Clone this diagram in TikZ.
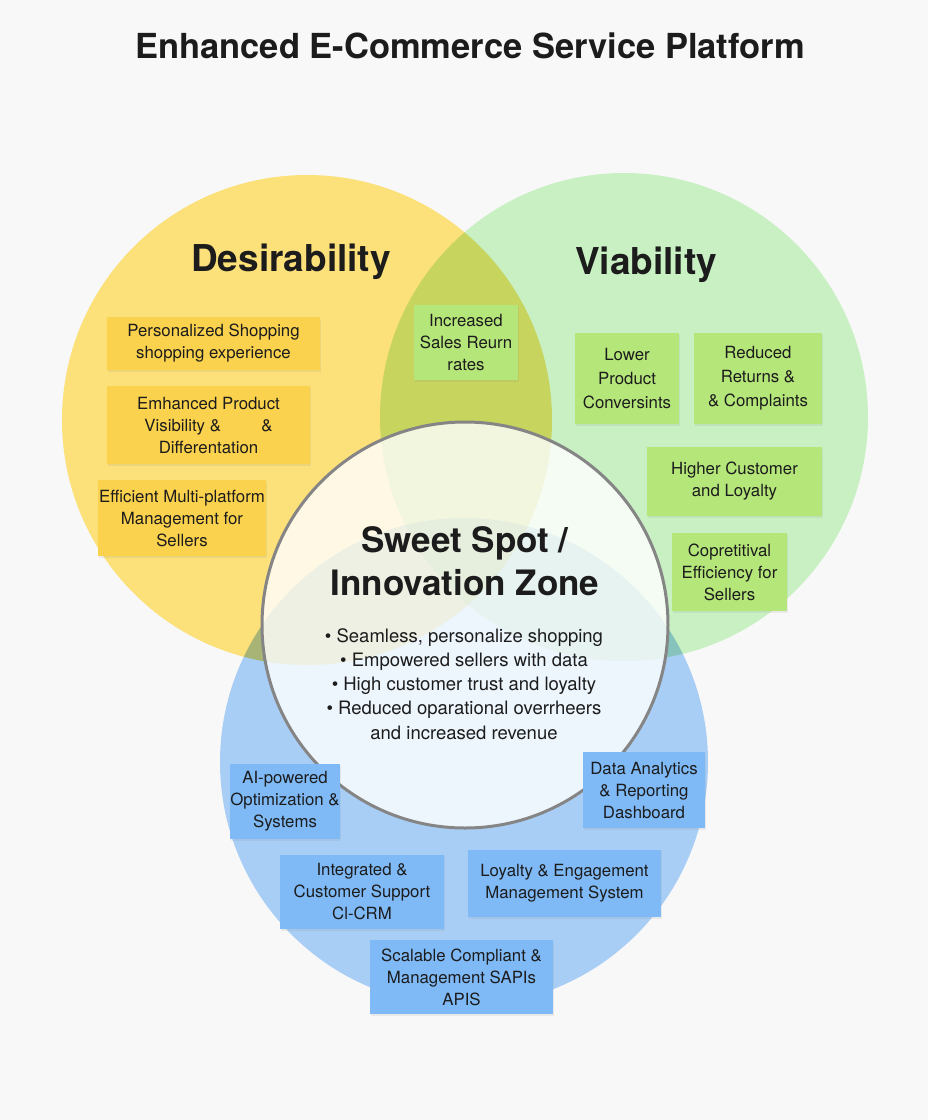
\documentclass[tikz,border=0pt]{standalone}
\usepackage{fontspec}
\setmainfont{TeX Gyre Heros}
\usetikzlibrary{shadows}
\definecolor{bgc}{HTML}{F8F8F8}
\definecolor{ycirc}{HTML}{FCE07A}
\definecolor{gcirc}{HTML}{BDEFB6}
\definecolor{bcirc}{HTML}{A9CEF5}
\definecolor{ybox}{HTML}{FBD24E}
\definecolor{gbox}{HTML}{B5E67A}
\definecolor{bbox}{HTML}{7FBAF7}
\definecolor{txt}{HTML}{1C1C1C}
\definecolor{ring}{HTML}{858585}
\tikzset{
  card/.style={rectangle, inner sep=0pt, align=center, text=txt,
    font=\fontsize{16.8}{22}\selectfont,
    drop shadow={shadow xshift=1pt, shadow yshift=-2pt, opacity=0.12}},
  widecard/.style={font=\fontsize{16.8}{24}\selectfont},
  ycard/.style={card, fill=ybox},
  gcard/.style={card, fill=gbox},
  bcard/.style={card, fill=bbox},
  heading/.style={text=txt, font=\fontsize{37}{42}\selectfont\bfseries},
}
\begin{document}
\begin{tikzpicture}[x=1pt,y=-1pt]
\fill[bgc] (0,0) rectangle (928,1120);
\useasboundingbox (0,0) rectangle (928,1120);
\node[text=txt, font=\fontsize{34.5}{40}\selectfont\bfseries] (title) at (470,46) {Enhanced E-Commerce Service Platform};
\begin{scope}[blend group=multiply]
  \fill[ycirc] (307,420) circle (245);
  \fill[gcirc, fill opacity=0.8] (624,417) circle (244);
  \fill[bcirc] (464,762) circle (244);
\end{scope}
\node[heading] (des) at (291,262) {Desirability};
\node[heading] (via) at (646,265) {Viability};
\draw[ring, line width=3pt, fill=white, fill opacity=0.8] (465,625) circle (203);
\node[text=txt, align=center, font=\fontsize{35}{43}\selectfont\bfseries] (sweet) at (465,561) {Sweet Spot /\\Innovation Zone};
\node[text=txt, align=center, font=\fontsize{18.5}{24.2}\selectfont] (bul) at (464,684) {\textbullet\ Seamless, personalize shopping\\\textbullet\ Empowered sellers with data\\\textbullet\ High customer trust and loyalty\\\textbullet\ Reduced oparational overrheers\\and increased revenue};
% yellow cards
\node[ycard, minimum width=213pt, minimum height=53pt] (y1) at (213.5,343.5) {Personalized Shopping\\shopping experience};
\node[ycard, minimum width=203pt, minimum height=78pt] (y2) at (208.5,425) {Emhanced Product\\Visibility \&\hspace{2.4em}\&\\Differentation};
\node[ycard, minimum width=168pt, minimum height=76pt] (y3) at (182,518) {Efficient Multi-platform\\Management for\\Sellers};
% green cards
\node[gcard, minimum width=104pt, minimum height=75pt] (go) at (466,342.5) {Increased\\Sales Reurn\\rates};
\node[gcard, widecard, minimum width=104pt, minimum height=91pt] (g1) at (627,378.5) {Lower\\Product\\Conversints};
\node[gcard, widecard, minimum width=128pt, minimum height=91pt] (g2) at (758,378.5) {Reduced\\Returns \&\\\& Complaints};
\node[gcard, minimum width=175pt, minimum height=69pt] (g3) at (734.5,481.5) {Higher Customer\\and Loyalty};
\node[gcard, minimum width=115pt, minimum height=78pt] (g4) at (729.5,572) {Copretitival\\Efficiency for\\Sellers};
% blue cards
\node[bcard, minimum width=110pt, minimum height=75pt] (b1) at (285,801.5) {AI-powered\\Optimization \&\\Systems};
\node[bcard, minimum width=122pt, minimum height=76pt] (b2) at (644,790) {Data Analytics\\\& Reporting\\Dashboard};
\node[bcard, minimum width=164pt, minimum height=74pt] (b3) at (362,892) {Integrated \&\\Customer Support\\Cl-CRM};
\node[bcard, minimum width=193pt, minimum height=67pt] (b4) at (564.5,883.5) {Loyalty \& Engagement\\Management System};
\node[bcard, minimum width=183pt, minimum height=74pt] (b5) at (461.5,977) {Scalable Compliant \&\\Management SAPIs\\APIS};
\end{tikzpicture}
\end{document}
